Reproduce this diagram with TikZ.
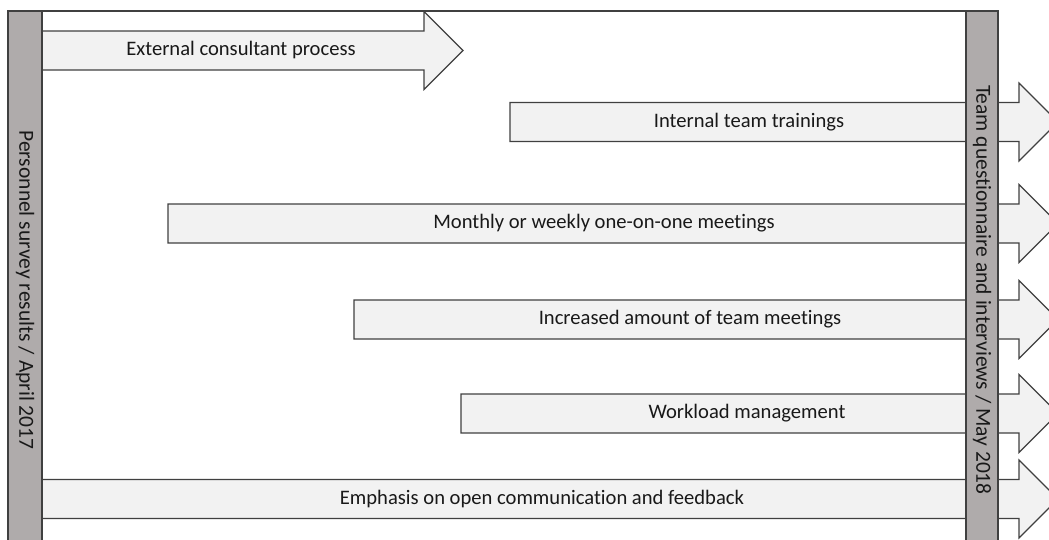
\documentclass[tikz,border=0pt]{standalone}
\usepackage{fontspec}
\setmainfont{Carlito}[Ligatures=NoCommon]
\definecolor{barfill}{RGB}{175,171,171}
\definecolor{arrfill}{RGB}{242,242,242}
\definecolor{edge}{RGB}{64,64,64}
\definecolor{txt}{RGB}{25,25,25}
\begin{document}
\begin{tikzpicture}[x=1pt,y=-1pt,
  arrowshape/.style={fill=arrfill,draw=edge,line width=1.1pt,line join=miter},
  barshape/.style={fill=barfill,draw=edge,line width=1.1pt},
  lbl/.style={font=\fontsize{20.6}{24}\selectfont,text=txt,inner sep=0pt},
  vlbl/.style={lbl,font=\fontsize{21.5}{25}\selectfont,rotate=-90}]
\useasboundingbox (0,0) rectangle (1049,539);
\clip (0,0) rectangle (1049,539);
% arrow: #1 start x, #2 centre y, #3 head base x
\newcommand{\harrow}[3]{%
  \draw[arrowshape] (#1,#2-19.5) -- (#3,#2-19.5) -- (#3,#2-39) -- (#3+39,#2) -- (#3,#2+39) -- (#3,#2+19.5) -- (#1,#2+19.5) -- cycle;}
% top frame line
\draw[draw=edge,line width=1.1pt] (8,11) -- (998,11);
% arrows
\harrow{42}{50.5}{424}
\harrow{510}{122}{1019}
\harrow{168}{223.5}{1019}
\harrow{354}{319.5}{1019}
\harrow{461}{413.5}{1019}
\harrow{42}{499}{1019}
% bars
\draw[barshape] (8,11) rectangle (42,550);
\draw[barshape] (966,11) rectangle (998,550);
% labels
\node[lbl] (a1) at (241,50.5) {External consultant process};
\node[lbl] (a2) at (749,122) {Internal team trainings};
\node[lbl] (a3) at (604,223.5) {Monthly or weekly one-on-one meetings};
\node[lbl] (a4) at (690,319.5) {Increased amount of team meetings};
\node[lbl] (a5) at (747,413.5) {Workload management};
\node[lbl] (a6) at (542,499) {Emphasis on open communication and feedback};
\node[vlbl] (lb) at (25,290) {Personnel survey results / April 2017};
\node[vlbl] (rb) at (982,290) {Team questionnaire and interviews / May 2018};
\end{tikzpicture}
\end{document}
